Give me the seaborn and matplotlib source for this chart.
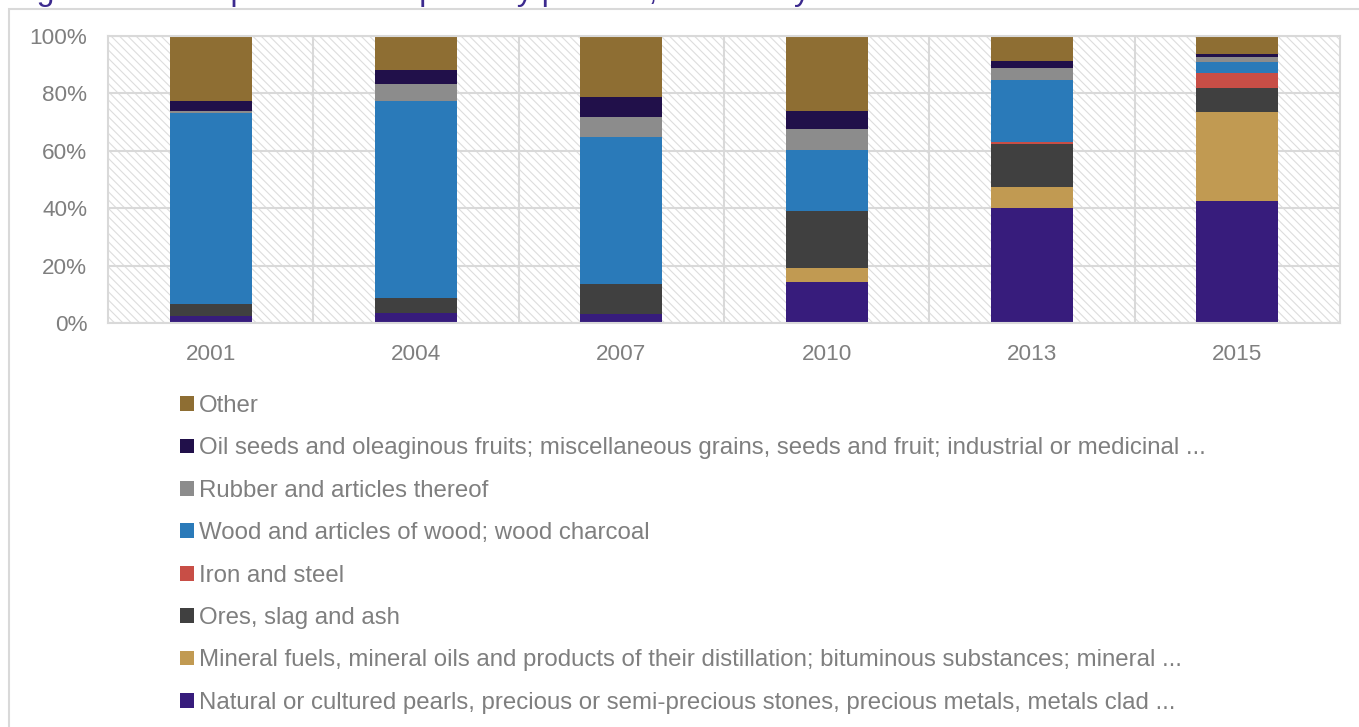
import numpy as np
import pandas as pd
import matplotlib
matplotlib.use("Agg")
import matplotlib.pyplot as plt
from matplotlib.patches import Rectangle, Patch
from matplotlib.ticker import FixedLocator
import seaborn as sns

# Export shares by product group (percent of total), stacked bottom to top
years = ["2001", "2004", "2007", "2010", "2013", "2015"]

pearls = [2.5, 3.4, 3.0, 14.3, 40.2, 42.5]
mineral_fuels = [0.0, 0.0, 0.0, 4.9, 7.2, 31.0]
ores = [4.0, 5.2, 10.5, 19.9, 15.1, 8.5]
iron_steel = [0.0, 0.0, 0.0, 0.0, 0.5, 5.0]
wood = [66.5, 68.9, 51.4, 21.2, 21.7, 4.0]
rubber = [0.8, 5.8, 7.0, 7.4, 4.3, 1.7]
oil_seeds = [3.7, 5.0, 7.0, 6.2, 2.4, 1.2]
other = [22.5, 11.7, 21.1, 26.1, 8.6, 6.1]

series_labels = [
    "Natural or cultured pearls, precious or semi-precious stones, precious metals, metals clad ...",
    "Mineral fuels, mineral oils and products of their distillation; bituminous substances; mineral ...",
    "Ores, slag and ash",
    "Iron and steel",
    "Wood and articles of wood; wood charcoal",
    "Rubber and articles thereof",
    "Oil seeds and oleaginous fruits; miscellaneous grains, seeds and fruit; industrial or medicinal ...",
    "Other",
]
series_values = [pearls, mineral_fuels, ores, iron_steel, wood, rubber, oil_seeds, other]
series_colors = ["#371C7C", "#C19A52", "#404040", "#C84E46",
                 "#2A7AB9", "#8C8C8C", "#21104A", "#8E6E33"]

title_text = "Figure 12: Composition of exports by product, selected years"

sns.set_theme(style="white")
plt.rcParams["font.family"] = ["Liberation Sans", "DejaVu Sans"]
plt.rcParams["hatch.linewidth"] = 0.8

TEXT_GREY = "#7F7F7F"
LINE_GREY = "#D9D9D9"

# Long table with running totals so each layer can be drawn as a full-height bar
rows = []
for label, vals in zip(series_labels, series_values):
    for y, v in zip(years, vals):
        rows.append({"year": y, "series": label, "share": v})
df = pd.DataFrame(rows)
df["series"] = pd.Categorical(df["series"], categories=series_labels, ordered=True)
df = df.sort_values(["year", "series"])
df["top"] = df.groupby("year")["share"].cumsum()

fig = plt.figure(figsize=(13.59, 7.27), dpi=100)
ax = fig.add_axes([108 / 1359, 1 - 323 / 727, (1340 - 108) / 1359, (323 - 36) / 727])

# Light diagonal hatching behind the plotting area
ax.add_patch(Rectangle((0, 0), 1, 1, transform=ax.transAxes, facecolor="white",
                       edgecolor="#DDDDDD", hatch="\\\\\\\\", linewidth=0, zorder=0.1))

# Draw layers from the top of the stack downward so lower segments overlay
for label, color in reversed(list(zip(series_labels, series_colors))):
    layer = df[df["series"] == label]
    sns.barplot(data=layer, x="year", y="top", order=years, color=color,
                saturation=1, width=0.4, linewidth=0, errorbar=None, ax=ax, zorder=2)

ax.set_xlim(-0.5, len(years) - 0.5)
ax.set_ylim(0, 100)
ax.set_yticks(np.arange(0, 101, 20))
ax.set_yticklabels([f"{v}%" for v in range(0, 101, 20)])
ax.xaxis.set_minor_locator(FixedLocator(np.arange(0.5, len(years) - 1, 1.0)))
ax.set_axisbelow(True)
ax.grid(axis="y", color=LINE_GREY, linewidth=1.5)
ax.grid(axis="x", which="minor", color=LINE_GREY, linewidth=1.5)
ax.grid(axis="x", which="major", visible=False)
ax.set_xlabel("")
ax.set_ylabel("")
for s in ax.spines.values():
    s.set_visible(True)
    s.set_color(LINE_GREY)
    s.set_linewidth(1.5)
ax.tick_params(axis="both", which="both", length=0, labelsize=16.2, colors=TEXT_GREY)
ax.tick_params(axis="y", pad=15)
ax.tick_params(axis="x", pad=15)

# Legend listed top to bottom, top of stack first
handles = [Patch(facecolor=c, edgecolor="none") for c in reversed(series_colors)]
fig.legend(handles, list(reversed(series_labels)), loc="upper left",
           bbox_to_anchor=(180 / 1359, 1 - 395 / 727), frameon=False,
           fontsize=17.25, labelcolor=TEXT_GREY, handlelength=0.58, handleheight=0.58,
           handletextpad=0.2, labelspacing=0.852, borderpad=0, borderaxespad=0)

# Outer chart frame
fig.add_artist(Rectangle((8.7 / 1359, -0.1), 1.2, 1 - 8.7 / 727 + 0.1,
                         transform=fig.transFigure, fill=False,
                         edgecolor=LINE_GREY, linewidth=1.5, clip_on=False))

# Heading sitting on the top edge of the canvas
fig.text(10 / 1359, 1.0, title_text, va="baseline", ha="left",
         fontsize=23, color="#3C2A8E")

fig.savefig("out.png", dpi=100)
